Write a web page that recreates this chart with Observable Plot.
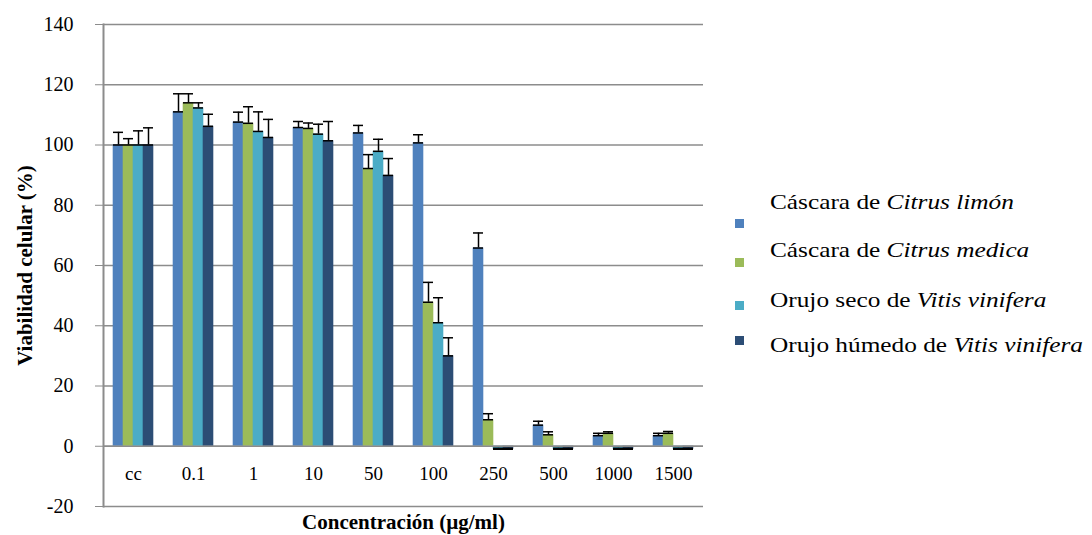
<!DOCTYPE html>
<html>
<head>
<meta charset="utf-8">
<script src="https://cdn.jsdelivr.net/npm/d3@7"></script>
<script src="https://cdn.jsdelivr.net/npm/@observablehq/plot@0.6"></script>
<style>
  html, body { margin: 0; padding: 0; background: #fff; }
  #wrap { position: relative; width: 1092px; height: 535px; font-family: "Liberation Serif", "Times New Roman", serif; overflow: hidden; }
  #chart { position: absolute; left: 0; top: 0; }
  #chart svg, #chart svg text { font-family: "Liberation Serif", "Times New Roman", serif !important; }
  #chart svg g[aria-label="y-axis label"] text,
  #chart svg g[aria-label="fx-axis label"] text { font-weight: bold; font-size: 21px; }
  .lg { position: absolute; font-size: 22px; color: #000; white-space: nowrap; line-height: 1; transform: scaleX(1.15); transform-origin: 0 0; }
  .sw { position: absolute; width: 9px; height: 9px; }
</style>
</head>
<body>
<div id="wrap">
  <div id="chart"></div>
  <div id="legend"></div>
</div>
<script>
// Categories (x axis)
const categories = ["cc", "0.1", "1", "10", "50", "100", "250", "500", "1000", "1500"];
// Series names
const series = ["limon", "medica", "seco", "humedo"];
const seriesLabels = [
  ["Cáscara de ", "Citrus limón"],
  ["Cáscara de ", "Citrus medica"],
  ["Orujo seco de ", "Vitis vinifera"],
  ["Orujo húmedo de ", "Vitis vinifera"]
];
const colors = ["#4F81BD", "#9BBB59", "#4BACC6", "#2C4D75"];
// Values (% viability) per series, per category
const limonV  = [100, 111, 107.6, 105.8, 104, 100.7, 65.8, 7, 3.5, 3.5];
const medicaV = [100, 114, 107.2, 105.5, 92.2, 47.8, 8.8, 3.8, 4.3, 4.3];
const secoV   = [100, 112.3, 104.5, 103.6, 97.9, 41, -1, -1, -1, -1];
const humedoV = [100, 106.2, 102.5, 101.4, 89.9, 30, -1, -1, -1, -1];
// Error (plus direction)
const limonE  = [4.2, 6, 3.3, 2, 2.5, 2.7, 5, 1.3, 0.8, 0.8];
const medicaE = [2.1, 3, 5.5, 1.8, 4.6, 6.6, 2, 1, 0.5, 0.6];
const secoE   = [4.7, 1.7, 6.5, 3.3, 4, 8.3, 0.3, 0.3, 0.3, 0.3];
const humedoE = [5.7, 4, 6, 6.4, 5.6, 6, 0.3, 0.3, 0.3, 0.3];
const yTicks = [-20, 0, 20, 40, 60, 80, 100, 120, 140];

const vals = [limonV, medicaV, secoV, humedoV];
const errs = [limonE, medicaE, secoE, humedoE];
const data = [];
categories.forEach((c, i) => {
  series.forEach((s, k) => {
    data.push({cat: c, s, v: vals[k][i], e: errs[k][i], top: vals[k][i] + errs[k][i]});
  });
});

const plot = Plot.plot({
  width: 710,
  height: 535,
  marginLeft: 103,
  marginRight: 7,
  marginTop: 24,
  marginBottom: 29,
  style: {fontFamily: "'Liberation Serif', serif", fontSize: "19px", color: "#000", background: "#fff"},
  fx: {domain: categories, padding: 0, label: "Concentración (µg/ml)"},
  x: {domain: series, paddingInner: 0, paddingOuter: 0.78, axis: null},
  y: {domain: [-20, 140], label: "Viabilidad celular (%)"},
  color: {domain: series, range: colors},
  marks: [
    Plot.gridY(yTicks, {stroke: "#8c8c8c", strokeOpacity: 1, strokeWidth: 1.5}),
    Plot.barY(data, {fx: "cat", x: "s", y: "v", fill: "s", insetLeft: -0.3, insetRight: -0.3}),
    Plot.ruleX(data, {fx: "cat", x: "s", y1: "v", y2: "top", stroke: "#000", strokeWidth: 1.5}),
    Plot.tickY(data, {fx: "cat", x: "s", y: "top", stroke: "#000", strokeWidth: 1.5}),
    Plot.tickY(data, {fx: "cat", x: "s", y: "v", stroke: "#000", strokeWidth: 1.5}),
    Plot.ruleY([0], {stroke: "#8c8c8c", strokeWidth: 1.5}),
    Plot.frame({anchor: "left", facetAnchor: "left", stroke: "#8c8c8c", strokeWidth: 2}),
    Plot.axisY({ticks: yTicks, tickSize: 8, tickPadding: 22, stroke: "#8c8c8c", tickFormat: d => String(d),
      label: "Viabilidad celular (%)", labelAnchor: "center", labelArrow: "none", labelOffset: 86, fontSize: 20}),
    Plot.axisFx({anchor: "bottom", tickSize: 0, dy: -49, fontSize: 19,
      label: "Concentración (µg/ml)", labelAnchor: "center", labelArrow: "none", labelOffset: 22})
  ]
});
document.getElementById("chart").appendChild(plot);

// Legend
const legend = document.getElementById("legend");
const swTops = [219, 258, 301, 336];
const txtTops = [191, 239, 289, 334];
series.forEach((s, k) => {
  const sw = document.createElement("div");
  sw.className = "sw";
  sw.style.left = "735px";
  sw.style.top = swTops[k] + "px";
  sw.style.background = colors[k];
  legend.appendChild(sw);
  const t = document.createElement("div");
  t.className = "lg";
  t.style.left = "770px";
  t.style.top = txtTops[k] + "px";
  t.innerHTML = seriesLabels[k][0] + "<i>" + seriesLabels[k][1] + "</i>";
  legend.appendChild(t);
});
</script>
</body>
</html>
